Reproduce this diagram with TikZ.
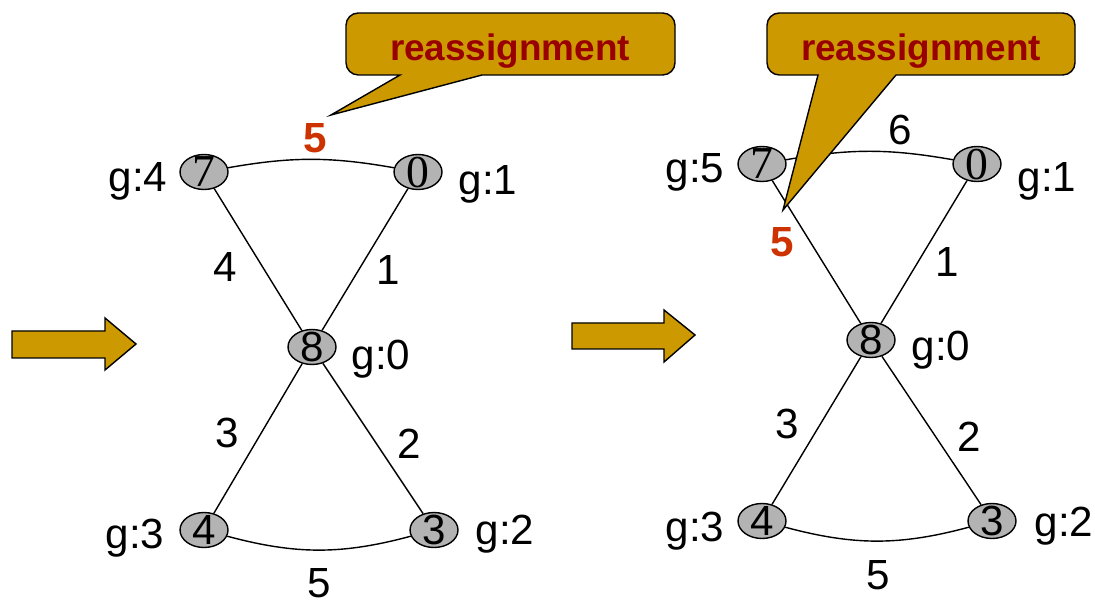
\documentclass[tikz,border=0pt]{standalone}
\usepackage{fontspec}
\setmainfont{Liberation Sans}
\newfontfamily\timesdig{Liberation Serif}
\usepackage{xcolor}
\usepackage{tikz}
\usetikzlibrary{positioning,shapes.geometric}

\definecolor{callgold}{RGB}{204,153,0}
\definecolor{calltext}{RGB}{153,0,0}
\definecolor{hotred}{RGB}{204,51,0}
\definecolor{vtxgray}{RGB}{179,179,179}

\newcommand{\vdig}[1]{\smash{\raisebox{-.5\height}{#1}}}

\begin{document}
\begin{tikzpicture}[x=0.02cm,y=0.02cm,
    vtx/.style={ellipse, draw, line width=0.8pt, fill=vtxgray, minimum width=0.96cm,
        minimum height=0.7cm, inner sep=0pt, font=\fontsize{24}{24}\selectfont},
    vtxserif/.style={vtx, font=\fontsize{26}{26}\selectfont\timesdig},
    lbl/.style={anchor=base, inner sep=0pt, font=\fontsize{24}{24}\selectfont},
    hot/.style={lbl, text=hotred, font=\fontsize{24}{24}\selectfont\bfseries},
    link/.style={line width=0.8pt},
    callout/.style={draw, line width=0.8pt, fill=callgold},
    calltxt/.style={anchor=base, inner sep=0pt, text=calltext, font=\fontsize{21}{21}\selectfont\bfseries},
    bigarrow/.style={draw, line width=0.8pt, fill=callgold}]
    \useasboundingbox (0,0) rectangle (1095,602);

    % left graph
    \node[vtxserif] (n7) at (204,430) {\vdig{7}};
    \node[vtxserif] (n0) at (418,430) {\vdig{0}};
    \node[vtx] (n8) at (312,255) {\vdig{8}};
    \node[vtx] (n4) at (204,72) {\vdig{4}};
    \node[vtx] (n3) at (434,72) {\vdig{3}};
    \draw[link] (n7) -- (n8);
    \draw[link] (n0) -- (n8);
    \draw[link] (n8) -- (n4);
    \draw[link] (n8) -- (n3);
    \draw[link] (n7) to[bend left=10] (n0);
    \draw[link] (n4) to[bend right=15] (n3);
    \node[lbl] (gl7) at (138,410) {g:4};
    \node[lbl] (gl0) at (488,407) {g:1};
    \node[lbl] (gl8) at (381,232) {g:0};
    \node[lbl] (gl4) at (135,54) {g:3};
    \node[lbl] (gl3) at (505,58) {g:2};
    \node[lbl] (wl1) at (225,320) {4};
    \node[lbl] (wl2) at (388,317) {1};
    \node[lbl] (wl3) at (227,154) {3};
    \node[lbl] (wl4) at (409,144) {2};
    \node[lbl] (wl5) at (319,5) {5};
    \node[hot] (hotl) at (315,449) {5};

    % right graph
    \node[vtxserif] (m7) at (762,438) {\vdig{7}};
    \node[vtxserif] (m0) at (977,438) {\vdig{0}};
    \node[vtx] (m8) at (871,262) {\vdig{8}};
    \node[vtx] (m4) at (762,81) {\vdig{4}};
    \node[vtx] (m3) at (992,81) {\vdig{3}};
    \draw[link] (m7) -- (m8);
    \draw[link] (m0) -- (m8);
    \draw[link] (m8) -- (m4);
    \draw[link] (m8) -- (m3);
    \draw[link] (m7) to[bend left=10] (m0);
    \draw[link] (m4) to[bend right=15] (m3);
    \node[lbl] (gr7) at (695,419) {g:5};
    \node[lbl] (gr0) at (1047,410) {g:1};
    \node[lbl] (gr8) at (941,241) {g:0};
    \node[lbl] (gr4) at (695,61) {g:3};
    \node[lbl] (gr3) at (1064,66) {g:2};
    \node[lbl] (wr1) at (900,457) {6};
    \node[lbl] (wr2) at (947,325) {1};
    \node[lbl] (wr3) at (787,164) {3};
    \node[lbl] (wr4) at (969,151) {2};
    \node[lbl] (wr5) at (878,13) {5};
    \node[hot] (hotr) at (782,345) {5};

    % arrows
    \draw[bigarrow] (12,244) -- (105,244) -- (105,232) -- (136,258) -- (105,284) -- (105,271) -- (12,271) -- cycle;
    \draw[bigarrow] (572,253) -- (664,253) -- (664,240) -- (695,267) -- (664,292) -- (664,279) -- (572,279) -- cycle;

    % callouts
    \draw[callout] (400,527) -- (331,487) -- (482,527)
        [rounded corners=7pt] -- (675,527) -- (675,589) -- (346,589) -- (346,527)
        [sharp corners] -- cycle;
    \node[calltxt] (cl) at (510,541) {reassignment};
    \draw[callout] (818,527) -- (783,392) -- (896,527)
        [rounded corners=7pt] -- (1075,527) -- (1075,589) -- (767,589) -- (767,527)
        [sharp corners] -- cycle;
    \node[calltxt] (cr) at (921,541) {reassignment};
\end{tikzpicture}
\end{document}
